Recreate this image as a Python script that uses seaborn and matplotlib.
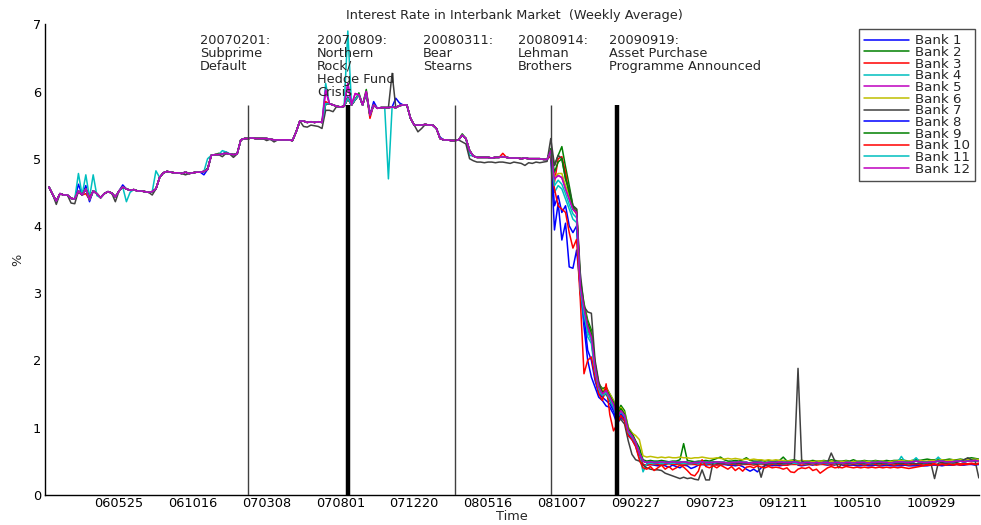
import numpy as np
import pandas as pd
import matplotlib
matplotlib.use('Agg')
import matplotlib.pyplot as plt
import seaborn as sns

# weekly index 1..253, rates in hundredths of a percent
weeks = np.arange(1, 254)

tick_pos = [20, 40, 60, 80, 100, 120, 140, 160, 180, 200, 220, 240]
tick_labels = ['060525', '061016', '070308', '070801', '071220', '080516',
               '081007', '090227', '090723', '091211', '100510', '100929']

bank_names = [f'Bank {i}' for i in range(1, 13)]
bank_colors = [(0, 0, 1), (0, 0.5, 0), (1, 0, 0), (0, 0.75, 0.75), (0.75, 0, 0.75),
               (0.75, 0.75, 0), (0.25, 0.25, 0.25), (0, 0, 1), (0, 0.5, 0), (1, 0, 0),
               (0, 0.75, 0.75), (0.75, 0, 0.75)]

# common path (weeks 1-253)
base = [458, 447, 437, 448, 446, 446, 441, 440, 452, 446,
        455, 439, 452, 448, 442, 448, 451, 449, 443, 452,
        458, 455, 453, 454, 452, 452, 451, 450, 451, 455,
        472, 479, 481, 480, 479, 479, 478, 480, 478, 479,
        480, 480, 481, 484, 505, 506, 506, 507, 508, 507,
        506, 507, 528, 530, 530, 531, 530, 530, 530, 530,
        529, 528, 528, 528, 528, 528, 527, 540, 556, 556,
        554, 555, 554, 555, 554, 582, 582, 580, 578, 577,
        578, 590, 580, 588, 595, 580, 598, 565, 580, 575,
        576, 576, 576, 577, 576, 579, 580, 580, 560, 550,
        550, 550, 551, 550, 550, 545, 530, 528, 528, 527,
        527, 528, 535, 530, 512, 504, 502, 502, 502, 502,
        501, 502, 502, 503, 502, 501, 501, 501, 500, 501,
        500, 500, 500, 500, 499, 499, 512, 470, 475, 472,
        455, 440, 425, 420, 310, 278, 250, 235, 190, 160,
        150, 155, 145, 135, 115, 125, 118, 95, 88, 78,
        62, 50, 48, 49, 48, 48, 49, 48, 48, 49,
        48, 48, 49, 48, 47, 48, 48, 49, 48, 48,
        48, 49, 48, 48, 47, 48, 48, 49, 48, 48,
        47, 48, 48, 48, 47, 48, 48, 48, 49, 48,
        48, 48, 49, 48, 47, 48, 48, 47, 48, 47,
        48, 48, 47, 48, 48, 47, 48, 48, 47, 48,
        48, 48, 47, 48, 48, 49, 48, 48, 47, 48,
        49, 49, 48, 48, 49, 50, 49, 48, 48, 49,
        49, 50, 50, 49, 49, 49, 50, 50, 49, 50,
        50, 51, 50]

# crisis weeks 137-160 by bank
bank1_c = [505, 394, 434, 379, 404, 339, 337, 364, 309, 250, 200, 175, 160, 145, 140, 132, 130, 120, 105, 115, 110, 88, 82, 72]
bank2_c = [515, 490, 505, 518, 488, 460, 430, 425, 320, 285, 260, 245, 195, 165, 158, 160, 150, 140, 120, 133, 125, 100, 92, 80]
bank3_c = [510, 465, 500, 503, 480, 445, 425, 418, 305, 275, 245, 230, 185, 160, 148, 160, 148, 132, 112, 124, 116, 92, 86, 76]
bank4_c = [508, 450, 460, 455, 440, 425, 410, 405, 300, 260, 235, 225, 180, 155, 145, 150, 140, 128, 112, 122, 115, 92, 85, 76]
bank6_c = [512, 472, 478, 478, 460, 445, 428, 422, 312, 282, 255, 240, 195, 165, 155, 158, 150, 140, 120, 130, 122, 100, 92, 88]
bank7_c = [530, 490, 505, 500, 470, 455, 430, 425, 330, 280, 272, 270, 200, 168, 152, 150, 140, 130, 110, 112, 105, 80, 60, 52]
bank8_c = [505, 430, 445, 420, 430, 400, 390, 400, 300, 265, 215, 200, 170, 150, 145, 140, 135, 125, 110, 120, 112, 90, 83, 74]
bank9_c = [512, 480, 495, 500, 470, 450, 428, 420, 315, 280, 255, 240, 192, 162, 152, 157, 147, 137, 118, 128, 120, 98, 90, 78]
bank10_c = [505, 455, 430, 425, 420, 390, 367, 380, 290, 180, 200, 205, 175, 150, 140, 165, 119, 95, 105, 118, 110, 88, 82, 72]
bank11_c = [510, 460, 468, 462, 448, 432, 418, 412, 305, 268, 242, 230, 185, 157, 148, 152, 142, 130, 114, 124, 117, 93, 86, 77]

# low-rate weeks 161-253 by bank
bank1_d = [55, 45, 44, 45, 44, 43, 45, 43, 41, 44,
           42, 40, 44, 43, 39, 41, 44, 45, 44, 45,
           44, 45, 44, 45, 44, 44, 43, 44, 42, 38,
           35, 38, 34, 40, 43, 44, 43, 44, 43, 44,
           44, 46, 50, 44, 43, 44, 45, 44, 46, 50,
           45, 44, 45, 44, 50, 44, 43, 44, 44, 43,
           43, 44, 43, 43, 44, 43, 43, 44, 43, 43,
           43, 43, 44, 43, 43, 43, 44, 43, 43, 44,
           44, 44, 43, 44, 44, 44, 45, 44, 44, 45,
           45, 44, 45]
bank2_d = [70, 52, 50, 51, 50, 50, 51, 50, 49, 50,
           50, 52, 76, 51, 50, 49, 50, 50, 51, 50,
           52, 54, 56, 52, 50, 50, 51, 50, 52, 55,
           51, 50, 50, 51, 50, 51, 50, 50, 51, 56,
           50, 51, 52, 50, 51, 50, 50, 51, 50, 50,
           51, 50, 52, 51, 50, 50, 51, 50, 52, 50,
           50, 51, 50, 50, 51, 50, 50, 51, 50, 51,
           51, 52, 51, 50, 51, 52, 51, 52, 53, 52,
           52, 53, 52, 52, 53, 52, 52, 53, 52, 54,
           55, 54, 53]
bank3_d = [60, 45, 44, 45, 45, 45, 44, 45, 46, 45,
           45, 45, 44, 45, 45, 45, 44, 45, 46, 45,
           45, 44, 45, 46, 45, 45, 45, 44, 45, 45,
           45, 44, 45, 45, 45, 44, 45, 45, 45, 44,
           44, 45, 45, 45, 44, 45, 45, 45, 44, 45,
           45, 45, 44, 45, 45, 45, 44, 45, 45, 45,
           45, 44, 45, 45, 45, 44, 45, 45, 45, 44,
           45, 45, 45, 44, 45, 45, 45, 44, 45, 46,
           46, 45, 46, 46, 46, 45, 46, 46, 46, 46,
           47, 46, 47]
bank4_d = [60, 34, 46, 47, 46, 47, 46, 47, 46, 47,
           47, 46, 47, 46, 46, 47, 46, 47, 46, 47,
           46, 47, 46, 47, 46, 47, 46, 47, 46, 47,
           47, 46, 47, 46, 47, 46, 47, 46, 47, 46,
           47, 46, 47, 46, 47, 46, 47, 46, 47, 46,
           47, 46, 47, 46, 47, 46, 47, 46, 47, 46,
           47, 46, 47, 46, 47, 46, 47, 46, 47, 47,
           48, 57, 49, 48, 50, 55, 49, 48, 48, 49,
           50, 56, 50, 49, 49, 50, 49, 50, 49, 50,
           50, 50, 50]
bank6_d = [82, 58, 56, 57, 56, 55, 56, 55, 56, 55,
           55, 56, 55, 55, 54, 55, 55, 56, 55, 54,
           54, 55, 54, 53, 54, 53, 54, 53, 52, 53,
           52, 53, 52, 52, 51, 52, 51, 52, 51, 51,
           50, 51, 50, 50, 51, 50, 50, 49, 50, 50,
           50, 49, 50, 49, 50, 49, 50, 49, 49, 50,
           49, 50, 49, 49, 50, 49, 50, 49, 49, 50,
           50, 51, 50, 50, 51, 50, 51, 50, 50, 51,
           51, 51, 52, 51, 51, 52, 51, 52, 51, 52,
           52, 53, 52]
bank7_d = [50, 44, 40, 38, 37, 37, 36, 32, 30, 28,
           26, 24, 26, 24, 25, 23, 22, 37, 22, 22,
           49, 47, 46, 47, 46, 47, 46, 47, 46, 46,
           47, 46, 45, 26, 45, 46, 47, 46, 47, 46,
           47, 46, 50, 188, 50, 47, 46, 47, 46, 47,
           48, 48, 62, 50, 40, 47, 46, 47, 46, 47,
           47, 46, 47, 46, 47, 46, 47, 46, 47, 46,
           47, 46, 47, 46, 47, 46, 47, 46, 47, 47,
           24, 47, 48, 47, 48, 47, 48, 50, 52, 55,
           52, 50, 25]
bank10_d = [52, 40, 38, 42, 36, 40, 44, 38, 42, 37,
            40, 44, 41, 36, 30, 28, 35, 52, 42, 40,
            43, 40, 44, 41, 38, 42, 36, 40, 35, 41,
            42, 40, 43, 41, 40, 42, 40, 41, 40, 38,
            40, 34, 33, 38, 40, 39, 41, 36, 38, 32,
            36, 40, 42, 40, 41, 40, 42, 41, 40, 41,
            40, 41, 40, 41, 40, 41, 40, 41, 40, 41,
            40, 41, 40, 39, 40, 41, 42, 43, 44, 44,
            45, 44, 45, 44, 45, 44, 45, 44, 45, 45,
            46, 45, 46]

# bank 7 sits a little lower in weeks 113-136
bank7_e = [525, 522, 500, 497, 495, 495, 494, 495, 495, 494, 495, 495,
           494, 493, 495, 494, 493, 490, 494, 493, 495, 494, 495, 496]

# single weeks: (week, value)
bank1_marks = [(9, 462), (11, 460), (12, 436), (21, 461), (43, 476), (49, 510),
               (82, 592), (89, 585), (95, 590), (96, 583), (107, 532)]
bank2_marks = [(44, 486), (47, 508), (85, 598), (87, 603), (113, 537)]
bank3_marks = [(9, 450), (11, 448), (88, 560), (124, 508)]
bank4_marks = [(9, 478), (11, 476), (12, 442), (13, 476), (14, 445), (22, 436),
               (23, 450), (30, 482), (44, 500), (48, 512), (49, 510),
               (76, 612), (82, 690), (93, 470), (115, 505)]
bank5_marks = [(76, 602), (82, 612), (84, 597), (87, 600)]
bank7_marks = [(3, 432), (7, 434), (8, 433), (19, 436), (29, 446), (38, 476),
               (48, 503), (51, 502), (60, 527), (62, 525), (70, 548), (71, 547),
               (72, 550), (73, 549), (74, 548), (75, 545), (76, 572), (77, 572),
               (78, 570), (94, 627), (101, 540), (102, 545)]
bank10_marks = [(9, 452), (12, 442), (76, 585)]

event_weeks = [55, 82, 111, 137, 155]
event_notes = ['20070201:\nSubprime\nDefault',
               '20070809:\nNorthern\nRock/\nHedge Fund\nCrisis',
               '20080311:\nBear\nStearns',
               '20080914:\nLehman\nBrothers',
               '20090919:\nAsset Purchase\nProgramme Announced']
note_weeks = [42, 73.6, 102.4, 128, 152.8]


def bank_series(c=None, d=None, e=None, marks=()):
    s = np.array(base, dtype=float)
    if c is not None:
        s[136:160] = c
    if d is not None:
        s[160:253] = d
    if e is not None:
        s[112:136] = e
    for w, v in marks:
        s[w - 1] = v
    return s / 100


series = [
    bank_series(bank1_c, bank1_d, marks=bank1_marks),
    bank_series(bank2_c, bank2_d, marks=bank2_marks),
    bank_series(bank3_c, bank3_d, marks=bank3_marks),
    bank_series(bank4_c, bank4_d, marks=bank4_marks),
    bank_series(marks=bank5_marks),
    bank_series(bank6_c, bank6_d),
    bank_series(bank7_c, bank7_d, bank7_e, marks=bank7_marks),
    bank_series(bank8_c),
    bank_series(bank9_c),
    bank_series(bank10_c, bank10_d, marks=bank10_marks),
    bank_series(bank11_c),
    bank_series(marks=bank5_marks),
]

df = pd.concat([pd.DataFrame({'week': weeks, 'rate': s, 'bank': name})
                for name, s in zip(bank_names, series)], ignore_index=True)

sns.set_style('white')
plt.rcParams['font.family'] = ['DejaVu Sans']

fs = 9.3
fig = plt.figure(figsize=(9.81, 5.25), dpi=100)
ax = fig.add_axes([0.0461, 0.0577, 0.9517, 0.896])

sns.lineplot(data=df, x='week', y='rate', hue='bank', hue_order=bank_names,
             palette=bank_colors, estimator=None, linewidth=1.1, ax=ax)

# event lines, two of them drawn heavy
for w in event_weeks:
    heavy = w in (82, 155)
    ax.vlines(w, 0, 5.8, color='black' if heavy else (0.25, 0.25, 0.25),
              lw=3.2 if heavy else 1.0, zorder=5)

for w, txt in zip(note_weeks, event_notes):
    ax.text(w, 6.86, txt, va='top', ha='left', fontsize=fs, linespacing=1.0)

ax.set_xlim(0, 253)
ax.set_ylim(0, 7)
ax.set_xticks(tick_pos)
ax.set_xticklabels(tick_labels)
ax.set_yticks(range(0, 8))
ax.tick_params(direction='in', length=6, width=0.8, labelsize=fs, pad=1.5, colors='black')
ax.tick_params(axis='y', pad=3)

for side in ['top', 'right']:
    ax.spines[side].set_visible(False)
for side in ['left', 'bottom']:
    ax.spines[side].set_color('black')
    ax.spines[side].set_linewidth(1.0)

ax.set_xlabel('Time', fontsize=fs)
ax.set_ylabel('%', fontsize=fs)
ax.xaxis.set_label_coords(0.5, -0.032)
ax.yaxis.set_label_coords(-0.022, 0.5)
fig.text(0.524, 1 - 16 / 525, 'Interest Rate in Interbank Market  (Weekly Average)',
         ha='center', va='center', fontsize=fs)

handles, labels = ax.get_legend_handles_labels()
ax.legend(handles, labels, loc='upper right', bbox_to_anchor=(975 / 981, 1 - 29 / 525),
          bbox_transform=fig.transFigure, fontsize=9.6, frameon=True, fancybox=False,
          edgecolor=(0.3, 0.3, 0.3), borderaxespad=0, handlelength=3.4, labelspacing=-0.1,
          borderpad=0.4, handletextpad=0.4, framealpha=1)

fig.savefig('out.png', dpi=100)
